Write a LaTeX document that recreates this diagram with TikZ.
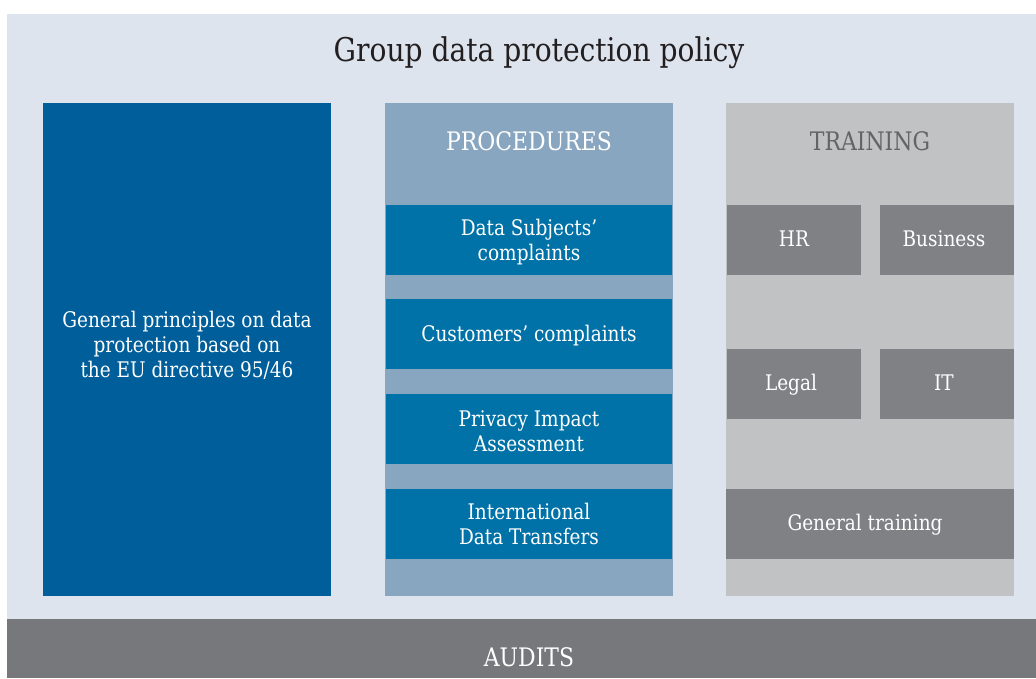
\documentclass[tikz,border=0pt]{standalone}
\usepackage{fontspec}
\setmainfont[FakeStretch=0.86]{DejaVu Serif}
\definecolor{bgl}{HTML}{DDE4EE}
\definecolor{dblue}{HTML}{005F9A}
\definecolor{iblue}{HTML}{0072A7}
\definecolor{pblue}{HTML}{89A6C1}
\definecolor{tgray}{HTML}{C1C2C4}
\definecolor{bgray}{HTML}{808184}
\definecolor{agray}{HTML}{77787C}
\definecolor{ttext}{HTML}{636466}
\definecolor{titletext}{HTML}{231F20}
\tikzset{
  x=1pt, y=-1pt,
  lbl/.style={text=white, font=\fontsize{21.5}{25}\selectfont, align=center, inner sep=0pt},
  head/.style={font=\fontsize{25.5}{30}\selectfont, inner sep=0pt},
}
\begin{document}
\begin{tikzpicture}
\useasboundingbox (0,0) rectangle (1036,678);
\fill[white] (0,0) rectangle (1036,678);
% background
\fill[bgl] (7,14) rectangle (1036,619);
\node[font=\fontsize{32.7}{38}\selectfont, text=titletext, inner sep=0pt] (title) at (539,53) {Group data protection policy};
% left column
\fill[dblue] (43,103) rectangle (331,596);
\node[lbl] (gptext) at (187,345) {General principles on data\\protection based on\\the EU directive 95/46};
% procedures
\fill[pblue] (385,103) rectangle (673,596);
\node[head, text=white] (proc) at (529,141) {PROCEDURES};
\fill[iblue] (386,205) rectangle (672,275);
\node[lbl] (p1) at (529,242) {Data Subjects’\\complaints};
\fill[iblue] (386,299) rectangle (672,369);
\node[lbl] (p2) at (529,336) {Customers’ complaints};
\fill[iblue] (386,394) rectangle (672,464);
\node[lbl] (p3) at (529,431) {Privacy Impact\\Assessment};
\fill[iblue] (386,489) rectangle (672,559);
\node[lbl] (p4) at (529,524) {International\\Data Transfers};
% training
\fill[tgray] (726,103) rectangle (1014,596);
\node[head, text=ttext] (train) at (870,141) {TRAINING};
\fill[bgray] (727,205) rectangle (861,275);
\node[lbl] (hr) at (794,239) {HR};
\fill[bgray] (880,205) rectangle (1014,275);
\node[lbl] (bus) at (944,239) {Business};
\fill[bgray] (727,349) rectangle (861,419);
\node[lbl] (legal) at (791,385) {Legal};
\fill[bgray] (880,349) rectangle (1014,419);
\node[lbl] (it) at (944,383) {IT};
\fill[bgray] (726,489) rectangle (1014,559);
\node[lbl] (gen) at (865,525) {General training};
% audits
\fill[agray] (7,619) rectangle (1036,678);
\node[head, text=white] (aud) at (529,657) {AUDITS};
\end{tikzpicture}
\end{document}
